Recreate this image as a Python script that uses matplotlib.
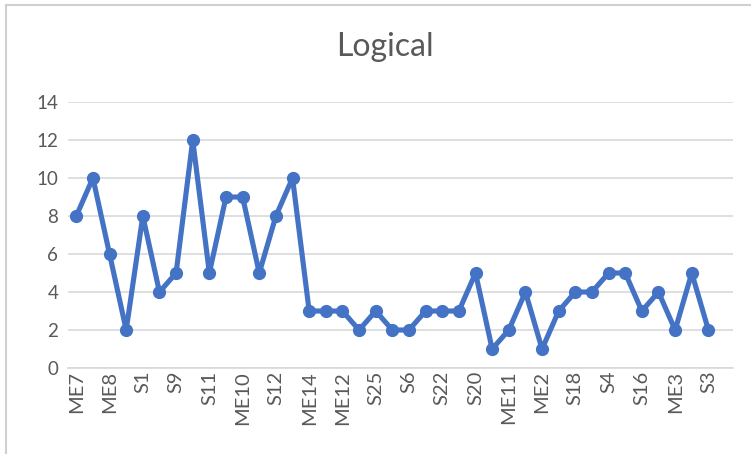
import matplotlib
matplotlib.use("Agg")
import matplotlib.pyplot as plt
from matplotlib.lines import Line2D

plt.rcParams['font.family'] = ['Lato', 'DejaVu Sans']

# Scores per item (40 category slots, the last one empty)
scores = [8, 10, 6, 2, 8, 4, 5, 12, 5, 9, 9, 5, 8, 10, 3, 3, 3, 2, 3, 2,
          2, 3, 3, 3, 5, 1, 2, 4, 1, 3, 4, 4, 5, 5, 3, 4, 2, 5, 2]
n_slots = 40
tick_labels = ['ME7', 'ME8', 'S1', 'S9', 'S11', 'ME10', 'S12', 'ME14', 'ME12', 'S25',
               'S6', 'S22', 'S20', 'ME11', 'ME2', 'S18', 'S4', 'S16', 'ME3', 'S3']
y_ticks = [0, 2, 4, 6, 8, 10, 12, 14]

text_color = '#595959'
line_color = '#4472C4'
grid_color = '#D9D9D9'

fig = plt.figure(figsize=(7.51, 4.54), dpi=100)
ax = fig.add_axes([0.0905, 0.1894, 0.886, 0.5859])

ax.plot(range(len(scores)), scores, color=line_color, linewidth=3.7,
        marker='o', markersize=8.5, markerfacecolor=line_color,
        markeredgecolor=line_color, solid_joinstyle='round', zorder=3)

ax.set_xlim(-0.5, n_slots - 0.5)
ax.set_ylim(0, 14)
ax.set_yticks(y_ticks)
ax.set_xticks(range(0, 2 * len(tick_labels), 2))
ax.set_xticklabels(tick_labels, rotation=90)

ax.yaxis.grid(True, color=grid_color, linewidth=1.2)
ax.set_axisbelow(True)
for side in ['top', 'right', 'left']:
    ax.spines[side].set_visible(False)
ax.spines['bottom'].set_color(grid_color)
ax.spines['bottom'].set_linewidth(1.2)
ax.tick_params(axis='both', length=0, colors=text_color, labelsize=13.5)
ax.tick_params(axis='x', labelsize=14.5, pad=2)
ax.tick_params(axis='y', pad=7)

fig.text(0.513, 0.897, 'Logical', ha='center', va='center',
         fontsize=23, color=text_color)

# Chart frame edges
fig.add_artist(Line2D([0.0085, 0.0085], [0.0, 0.99], transform=fig.transFigure,
                      color='#D0D0D0', linewidth=1.5))
fig.add_artist(Line2D([0.0085, 1.0], [0.99, 0.99], transform=fig.transFigure,
                      color='#D0D0D0', linewidth=1.5))

fig.savefig('out.png', dpi=100)
